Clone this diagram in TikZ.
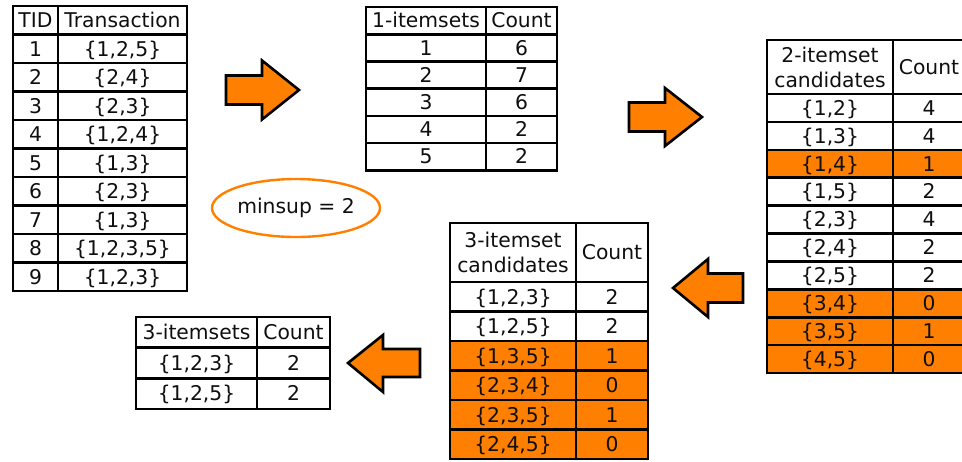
\documentclass[tikz,border=0pt]{standalone}
\usepackage{fontspec}
\setmainfont{DejaVu Sans}
\usetikzlibrary{shapes.geometric}
\definecolor{aorange}{RGB}{255,128,0}
\definecolor{ink}{RGB}{15,15,15}
\tikzset{
  cell/.style={draw=black, line width=2.6pt, fill=white, inner sep=0pt, text=ink,
    font=\fontsize{20.3}{25}\selectfont, text height=19.5pt, text depth=5pt, anchor=center},
  hcell/.style={draw=black, line width=2.6pt, fill=white, inner sep=0pt, text=ink,
    font=\fontsize{20.3}{25}\selectfont, align=center, anchor=center},
  blockarrow/.style={fill=aorange, draw=black, line width=2.6pt, line join=miter},
  minsupbox/.style={draw=aorange, ellipse, line width=2.4pt, fill=white, inner sep=0pt,
    minimum width=168pt, minimum height=58pt, text=ink, font=\fontsize{20.3}{25}\selectfont}
}
\begin{document}
\begin{tikzpicture}[x=1pt,y=-1pt]
\useasboundingbox (0,0) rectangle (962,461);

% ---- Table 1: transactions
\node[cell, minimum width=45pt, minimum height=28.5pt] (t1h1) at (35.5,20.25) {TID};
\node[cell, minimum width=129pt, minimum height=28.5pt] (t1h2) at (122.5,20.25) {Transaction};
\foreach \i/\s in {1/{1,2,5},2/{2,4},3/{2,3},4/{1,2,4},5/{1,3},6/{2,3},7/{1,3},8/{1,2,3,5},9/{1,2,3}}{
  \node[cell, minimum width=45pt, minimum height=28.5pt] (t1a\i) at (35.5,{20.25+28.5*\i}) {\i};
  \node[cell, minimum width=129pt, minimum height=28.5pt] (t1b\i) at (122.5,{20.25+28.5*\i}) {\{\s\}};
}

% ---- Table 2: 1-itemsets
\node[cell, minimum width=120pt, minimum height=27.2pt] (t2h1) at (426,20.6) {1-itemsets};
\node[cell, minimum width=71pt, minimum height=27.2pt] (t2h2) at (521.5,20.6) {Count};
\foreach \i/\c in {1/6,2/7,3/6,4/2,5/2}{
  \node[cell, minimum width=120pt, minimum height=27.2pt] (t2a\i) at (426,{20.6+27.2*\i}) {\i};
  \node[cell, minimum width=71pt, minimum height=27.2pt] (t2b\i) at (521.5,{20.6+27.2*\i}) {\c};
}

% ---- Table 3: 2-itemset candidates
\node[hcell, minimum width=126pt, minimum height=54pt] (t3h1) at (830,67) {2-itemset\\candidates};
\node[cell, minimum width=72pt, minimum height=54pt] (t3h2) at (929,67) {Count};
\foreach \i/\s/\c/\f in {1/{1,2}/4/white,2/{1,3}/4/white,3/{1,4}/1/aorange,4/{1,5}/2/white,5/{2,3}/4/white,
                         6/{2,4}/2/white,7/{2,5}/2/white,8/{3,4}/0/aorange,9/{3,5}/1/aorange,10/{4,5}/0/aorange}{
  \node[cell, fill=\f, minimum width=126pt, minimum height=27.9pt] (t3a\i) at (830,{94+27.9*(\i-0.5)}) {\{\s\}};
  \node[cell, fill=\f, minimum width=72pt, minimum height=27.9pt] (t3b\i) at (929,{94+27.9*(\i-0.5)}) {\c};
}

% ---- Table 4: 3-itemset candidates
\node[hcell, minimum width=126pt, minimum height=59pt] (t4h1) at (513,252.5) {3-itemset\\candidates};
\node[cell, minimum width=72pt, minimum height=59pt] (t4h2) at (612,252.5) {Count};
\foreach \i/\s/\c/\f in {1/{1,2,3}/2/white,2/{1,2,5}/2/white,3/{1,3,5}/1/aorange,4/{2,3,4}/0/aorange,
                         5/{2,3,5}/1/aorange,6/{2,4,5}/0/aorange}{
  \node[cell, fill=\f, minimum width=126pt, minimum height=29.5pt] (t4a\i) at (513,{282+29.5*(\i-0.5)}) {\{\s\}};
  \node[cell, fill=\f, minimum width=72pt, minimum height=29.5pt] (t4b\i) at (612,{282+29.5*(\i-0.5)}) {\c};
}

% ---- Table 5: 3-itemsets
\node[cell, minimum width=121pt, minimum height=30.7pt] (t5h1) at (196.5,332.3) {3-itemsets};
\node[cell, minimum width=73pt, minimum height=30.7pt] (t5h2) at (293.5,332.3) {Count};
\foreach \i/\s in {1/{1,2,3},2/{1,2,5}}{
  \node[cell, minimum width=121pt, minimum height=30.7pt] (t5a\i) at (196.5,{332.3+30.7*\i}) {\{\s\}};
  \node[cell, minimum width=73pt, minimum height=30.7pt] (t5b\i) at (293.5,{332.3+30.7*\i}) {2};
}

% ---- minsup
\node[minsupbox] (minsup) at (296,208) {minsup = 2};

% ---- block arrows
\draw[blockarrow] (226,75.5) -- (262,75.5) -- (262,60.5) -- (299,90) -- (262,119.5) -- (262,104.5) -- (226,104.5) -- cycle;
\draw[blockarrow] (629,102.5) -- (665,102.5) -- (665,88) -- (702,117) -- (665,146) -- (665,131.5) -- (629,131.5) -- cycle;
\draw[blockarrow] (743,273.5) -- (708,273.5) -- (708,259) -- (673,288) -- (708,317) -- (708,302.5) -- (743,302.5) -- cycle;
\draw[blockarrow] (420,349) -- (383,349) -- (383,335) -- (348,363) -- (383,392) -- (383,377) -- (420,377) -- cycle;
\end{tikzpicture}
\end{document}
